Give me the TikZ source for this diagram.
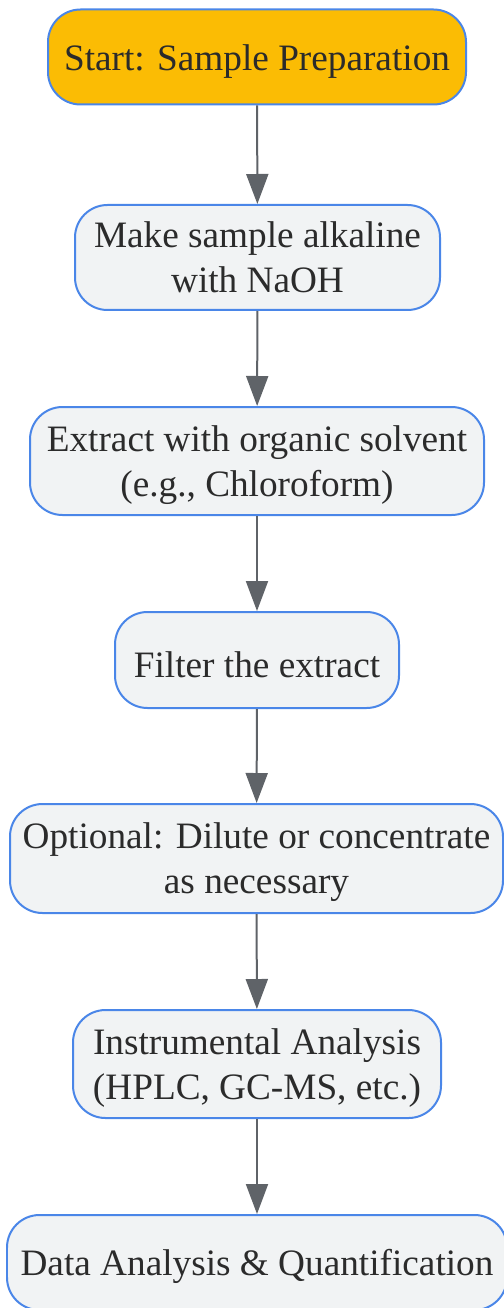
\documentclass[tikz,border=0pt]{standalone}
\usepackage{fontspec}
\setmainfont{Liberation Serif}
\usetikzlibrary{arrows.meta}
\definecolor{boxblue}{HTML}{4A86E8}
\definecolor{boxgray}{HTML}{F1F3F4}
\definecolor{startorange}{HTML}{FBBC04}
\definecolor{arrowgray}{HTML}{5F6368}
\definecolor{textdark}{HTML}{2B2B2B}

\begin{document}
\begin{tikzpicture}[
		stepnode/.style={draw=boxblue, line width=0.04cm, fill=boxgray, rounded corners=0.65cm,
			align=center, text=textdark, inner sep=0pt,
			font=\fontsize{21.2}{25.6}\selectfont},
		oneline/.style={text height=0.7cm},
		twoline/.style={text depth=0pt},
		startnode/.style={stepnode, fill=startorange},
		flow/.style={draw=arrowgray, line width=0.04cm, -{Triangle[length=0.6cm,width=0.44cm]}}
	]
		%%%%% START %%%%%
		
		\useasboundingbox (0, 0) rectangle (10.06, -26.16);
		
		\node[startnode, oneline, minimum width=8.36cm, minimum height=1.9cm] (start) at (5.14, -1.14) {Start: Sample Preparation};
		\node[stepnode, twoline, minimum width=7.3cm, minimum height=2.1cm] (alkaline) at (5.15, -5.15) {Make sample alkaline\\with NaOH};
		\node[stepnode, twoline, minimum width=9.08cm, minimum height=2.16cm] (extract) at (5.14, -9.22) {Extract with organic solvent\\(e.g., Chloroform)};
		\node[stepnode, oneline, minimum width=5.68cm, minimum height=1.92cm] (filter) at (5.14, -13.2) {Filter the extract};
		\node[stepnode, twoline, minimum width=9.86cm, minimum height=2.18cm] (dilute) at (5.13, -17.17) {Optional: Dilute or concentrate\\as necessary};
		\node[stepnode, twoline, minimum width=7.36cm, minimum height=2.16cm] (instrument) at (5.14, -21.28) {Instrumental Analysis\\(HPLC, GC-MS, etc.)};
		\node[stepnode, oneline, minimum width=10.0cm, minimum height=1.9cm] (data) at (5.14, -25.25) {Data Analysis \& Quantification};
		
		\draw[flow] (start) -- (alkaline);
		\draw[flow] (alkaline) -- (extract);
		\draw[flow] (extract) -- (filter);
		\draw[flow] (filter) -- (dilute);
		\draw[flow] (dilute) -- (instrument);
		\draw[flow] (instrument) -- (data);
		
		%%%%% END %%%%%
	\end{tikzpicture}
\end{document}
